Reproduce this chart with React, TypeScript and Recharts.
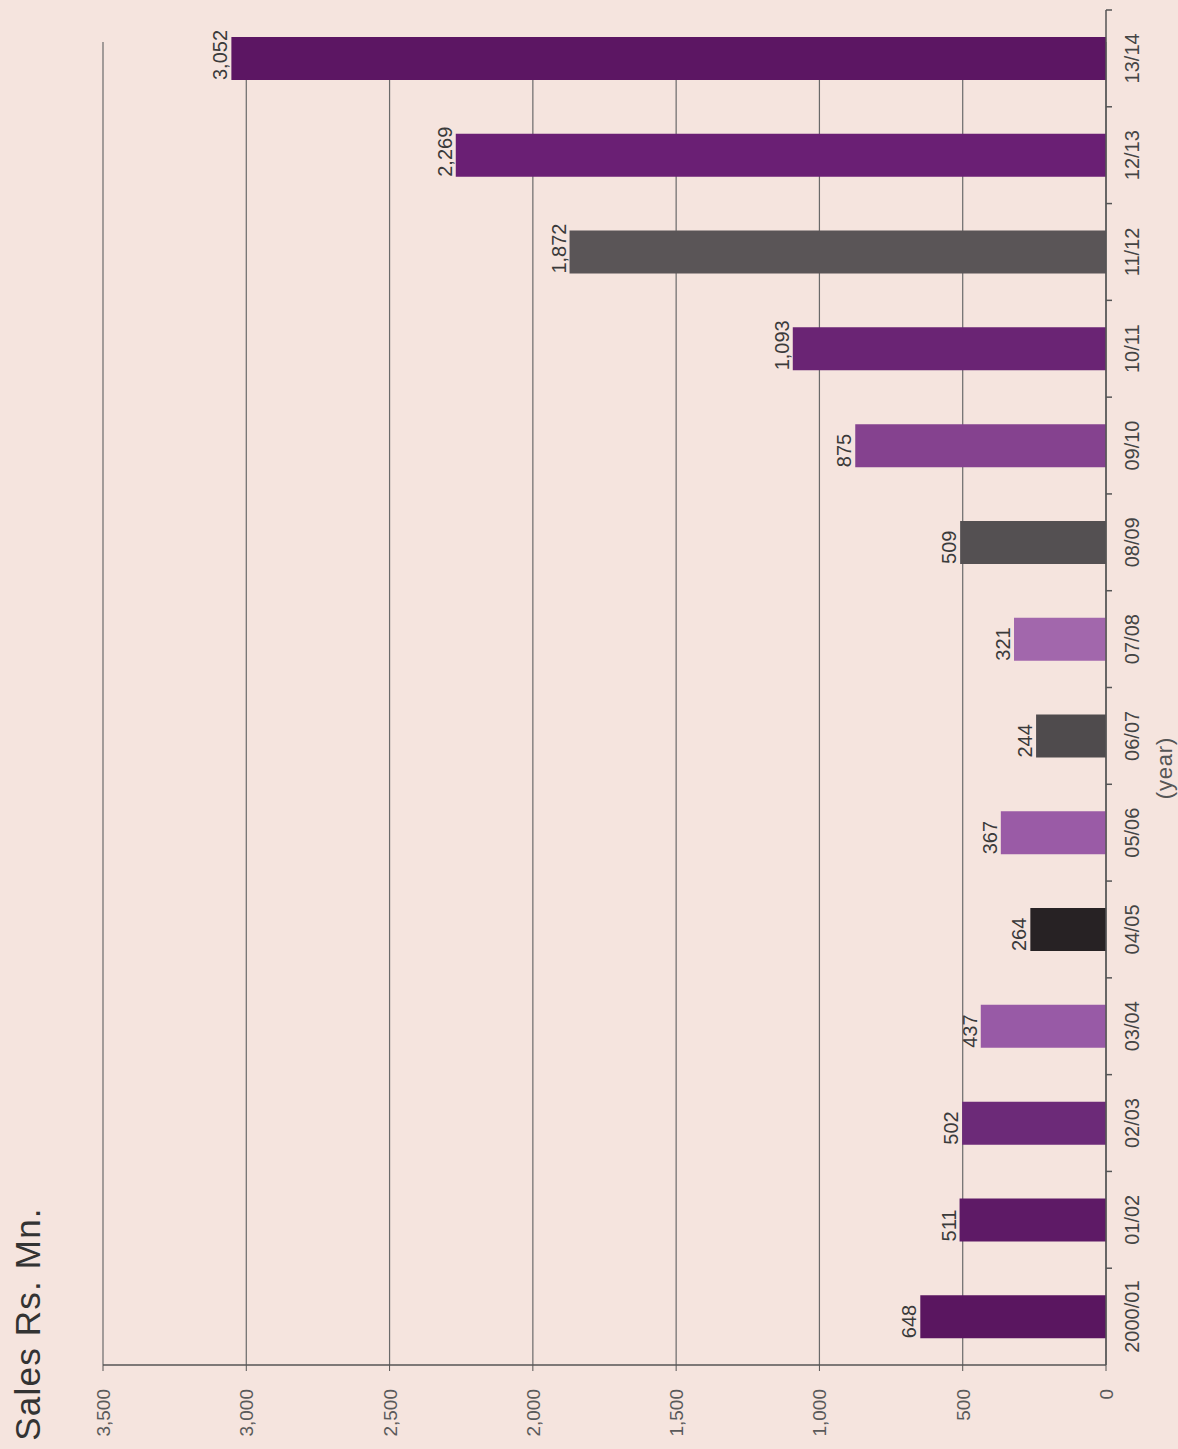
import { BarChart, Bar, XAxis, YAxis, CartesianGrid, Cell, LabelList, Label } from 'recharts';

const years = ['2000/01', '01/02', '02/03', '03/04', '04/05', '05/06', '06/07', '07/08', '08/09', '09/10', '10/11', '11/12', '12/13', '13/14'];
const sales = [648, 511, 502, 437, 264, 367, 244, 321, 509, 875, 1093, 1872, 2269, 3052];
const barColors = [
  '#5a1660', '#5e1a66', '#6c2a78', '#985aa6', '#272224', '#9a5ba6', '#4f4b4d',
  '#a267ac', '#545052', '#85428f', '#6a2474', '#5a5557', '#6a1f74', '#5c1663',
];
const valueTicks = [0, 500, 1000, 1500, 2000, 2500, 3000, 3500];

const data = years.map((year, i) => ({ year, sales: sales[i] }));

const FONT = '"Liberation Sans", Arial, sans-serif';
const AXIS = '#555';

function ValueTick({ x, y, payload }: any) {
  const bx = x + 7;
  const by = y + 16;
  return (
    <text x={bx} y={by} transform={`rotate(-90, ${bx}, ${by})`} textAnchor="end" fontSize={19} fill="#5a5a5a" fontFamily={FONT}>
      {payload.value.toLocaleString('en-US')}
    </text>
  );
}

function YearTick({ x, y, payload }: any) {
  const axisX = x - 8;
  const half = payload.offset ?? 48.3;
  const bx = x + 25;
  return (
    <g>
      <line x1={axisX} x2={axisX + 6} y1={y - half} y2={y - half} stroke={AXIS} strokeWidth={1.5} />
      <text x={bx} y={y} transform={`rotate(-90, ${bx}, ${y})`} textAnchor="middle" fontSize={20} fill="#444" fontFamily={FONT}>
        {payload.value}
      </text>
    </g>
  );
}

function ValueLabel({ x, y, width, height, value }: any) {
  const left = Math.min(x, x + width);
  const bx = left - 4;
  const by = y + height;
  return (
    <text x={bx} y={by} transform={`rotate(-90, ${bx}, ${by})`} textAnchor="start" fontSize={20} fill="#3a3a3a" fontFamily={FONT}>
      {Number(value).toLocaleString('en-US')}
    </text>
  );
}

export default function App() {
  return (
    <div style={{ position: 'absolute', left: 0, top: 0, width: 1178, height: 1449, background: '#f5e4de' }}>
      <BarChart
        width={1178}
        height={1449}
        data={data}
        layout="vertical"
        margin={{ top: 10, right: 0, bottom: 0, left: 103 }}
      >
        <CartesianGrid
          horizontal={false}
          vertical={(p: any) => (
            <line key={`g-${p.index}`} x1={p.x1} x2={p.x2} y1={p.y1 + 32} y2={p.y2} stroke="#6a6a6a" strokeWidth={1.2} />
          )}
        />
        <XAxis
          type="number"
          reversed
          domain={[0, 3500]}
          ticks={valueTicks}
          interval={0}
          height={84}
          tickSize={6}
          tick={<ValueTick />}
          axisLine={{ stroke: AXIS, strokeWidth: 1.5 }}
          tickLine={{ stroke: AXIS }}
        >
          <Label
            content={() => (
              <text x={40} y={1324} transform="rotate(-90, 40, 1324)" textAnchor="middle" fontSize={35} letterSpacing={1.2} fill="#333" fontFamily={FONT}>
                Sales Rs. Mn.
              </text>
            )}
          />
        </XAxis>
        <YAxis
          type="category"
          dataKey="year"
          orientation="right"
          reversed
          width={72}
          interval={0}
          tickLine={false}
          tick={<YearTick />}
          axisLine={{ stroke: AXIS, strokeWidth: 1.5 }}
        >
          <Label
            content={() => (
              <text x={1172} y={768} transform="rotate(-90, 1172, 768)" textAnchor="middle" fontSize={22} letterSpacing={0.8} fill="#555" fontFamily={FONT}>
                (year)
              </text>
            )}
          />
        </YAxis>
        <Bar dataKey="sales" barSize={43} isAnimationActive={false}>
          {data.map((d, i) => (
            <Cell key={d.year} fill={barColors[i]} />
          ))}
          <LabelList dataKey="sales" content={<ValueLabel />} />
        </Bar>
      </BarChart>
    </div>
  );
}
